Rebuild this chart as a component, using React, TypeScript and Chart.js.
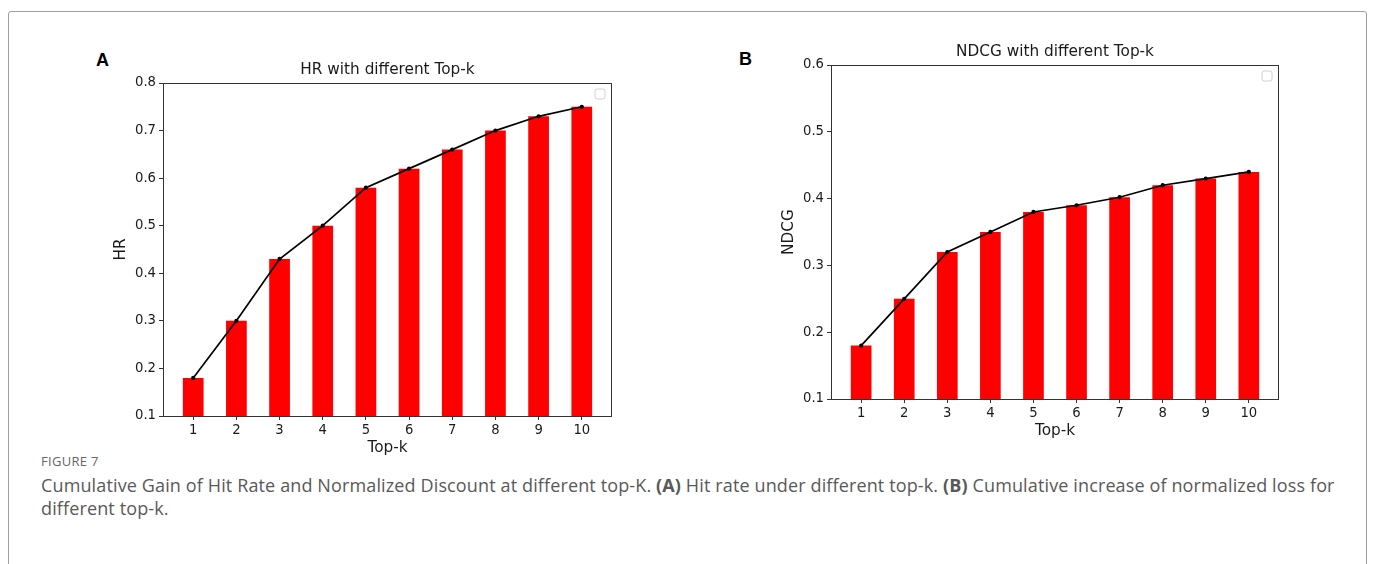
import React, { useEffect, useRef } from 'react';
import { Chart, registerables } from 'chart.js';

Chart.register(...registerables);

// ---- data ----
const topK = [1, 2, 3, 4, 5, 6, 7, 8, 9, 10];
const hrValues = [0.18, 0.3, 0.43, 0.5, 0.58, 0.62, 0.66, 0.7, 0.73, 0.75];
const ndcgValues = [0.18, 0.25, 0.32, 0.35, 0.38, 0.39, 0.402, 0.42, 0.43, 0.44];
const hrTicks = [0.1, 0.2, 0.3, 0.4, 0.5, 0.6, 0.7, 0.8];
const ndcgTicks = [0.1, 0.2, 0.3, 0.4, 0.5, 0.6];

const FONT = "'DejaVu Sans', sans-serif";
const AXIS = '#333';
const LABEL_SIZE = 15.3;
const TICK_SIZE = 13.2;

type Props = {
  values: number[];
  yTicks: number[];
  title: string;
  yLabel: string;
  box: [number, number, number, number]; // x, y, w, h of canvas in page coords
  plot: [number, number, number, number]; // L, T, R, B of plot area in page coords
};

function PanelChart({ values, yTicks, title, yLabel, box, plot }: Props) {
  const ref = useRef<HTMLCanvasElement | null>(null);
  const [x0, y0, w, h] = box;
  useEffect(() => {
    const [L, T, R, B] = plot;
    const yAxisW = L - x0;
    const xAxisH = y0 + h - B;
    const titleLH = LABEL_SIZE * 1.2;

    const framePlugin = {
      id: 'frame',
      afterDraw(chart: any) {
        const { ctx, chartArea: a } = chart;
        ctx.save();
        ctx.strokeStyle = AXIS;
        ctx.lineWidth = 1;
        ctx.strokeRect(Math.round(a.left) + 0.5, Math.round(a.top) + 0.5, Math.round(a.right - a.left) - 1, Math.round(a.bottom - a.top));
        // empty legend box
        const lx = a.right - 17;
        const ly = a.top + 6;
        ctx.strokeStyle = '#d0d0d0';
        ctx.beginPath();
        const r = 2;
        const s = 10;
        ctx.moveTo(lx + r, ly);
        ctx.arcTo(lx + s, ly, lx + s, ly + s, r);
        ctx.arcTo(lx + s, ly + s, lx, ly + s, r);
        ctx.arcTo(lx, ly + s, lx, ly, r);
        ctx.arcTo(lx, ly, lx + s, ly, r);
        ctx.closePath();
        ctx.stroke();
        // title
        ctx.fillStyle = '#1a1a1a';
        ctx.font = `${LABEL_SIZE}px ${FONT}`;
        ctx.textAlign = 'center';
        ctx.textBaseline = 'middle';
        ctx.fillText(title, (a.left + a.right) / 2, a.top - 13);
        ctx.restore();
      },
    };

    const chart = new Chart(ref.current as HTMLCanvasElement, {
      data: {
        datasets: [
          {
            type: 'line',
            data: topK.map((k, i) => ({ x: k, y: values[i] })),
            borderColor: '#000',
            backgroundColor: '#000',
            borderWidth: 1.7,
            pointRadius: 1.3,
            pointHoverRadius: 1.3,
            order: 0,
          },
          {
            type: 'bar',
            data: topK.map((k, i) => ({ x: k, y: values[i] })),
            backgroundColor: '#ff0000',
            borderWidth: 0,
            barPercentage: 0.48,
            categoryPercentage: 1,
            order: 1,
          },
        ],
      } as any,
      options: {
        animation: false,
        responsive: false,
        events: [],
        layout: { padding: { left: 0, top: T - y0, right: x0 + w - R, bottom: 0 } },
        plugins: { legend: { display: false }, tooltip: { enabled: false }, title: { display: false } },
        scales: {
          x: {
            type: 'linear',
            min: 0.3,
            max: 10.7,
            offset: false,
            afterBuildTicks: (s: any) => {
              s.ticks = topK.map((v) => ({ value: v }));
            },
            afterFit: (s: any) => {
              s.height = xAxisH;
            },
            ticks: {
              callback: (v: any) => String(v),
              font: { family: FONT, size: TICK_SIZE },
              color: '#1a1a1a',
              padding: 3,
              maxRotation: 0,
              autoSkip: false,
            },
            grid: { display: true, offset: false, drawOnChartArea: false, drawTicks: true, tickLength: 4, color: AXIS },
            border: { display: false },
            title: {
              display: true,
              text: 'Top-k',
              color: '#1a1a1a',
              font: { family: FONT, size: LABEL_SIZE, lineHeight: 1.2 },
              padding: { top: 0, bottom: xAxisH - 32 - titleLH / 2 },
            },
          },
          y: {
            type: 'linear',
            min: yTicks[0],
            max: yTicks[yTicks.length - 1],
            afterBuildTicks: (s: any) => {
              s.ticks = yTicks.map((v) => ({ value: v }));
            },
            afterFit: (s: any) => {
              s.width = yAxisW;
            },
            ticks: {
              callback: (v: any) => Number(v).toFixed(1),
              font: { family: FONT, size: TICK_SIZE },
              color: '#1a1a1a',
              padding: 3,
            },
            grid: { display: true, drawOnChartArea: false, drawTicks: true, tickLength: 4, color: AXIS },
            border: { display: false },
            title: {
              display: true,
              text: yLabel,
              color: '#1a1a1a',
              font: { family: FONT, size: LABEL_SIZE, lineHeight: 1.2 },
              padding: { top: yAxisW - 42 - titleLH / 2, bottom: 0 },
            },
          },
        },
      } as any,
      plugins: [framePlugin],
    });
    return () => chart.destroy();
  }, []);
  return (
    <canvas
      ref={ref}
      width={w}
      height={h}
      style={{ position: 'absolute', left: x0, top: y0, width: w, height: h }}
    />
  );
}

export default function App() {
  const line = { whiteSpace: 'nowrap' as const, display: 'block' };
  return (
    <div style={{ position: 'absolute', left: 0, top: 0, width: 1375, height: 564, overflow: 'hidden', background: '#fff' }}>
      <div
        style={{
          position: 'absolute',
          left: 8,
          top: 11,
          width: 1359,
          height: 640,
          border: '1px solid #9e9e9e',
          borderRadius: 3,
          boxSizing: 'border-box',
        }}
      />
      <div style={{ position: 'absolute', left: 96, top: 50, font: "bold 18px 'Liberation Sans', Arial, sans-serif", color: '#000' }}>A</div>
      <div style={{ position: 'absolute', left: 739, top: 49, font: "bold 18px 'Liberation Sans', Arial, sans-serif", color: '#000' }}>B</div>
      <PanelChart values={hrValues} yTicks={hrTicks} title="HR with different Top-k" yLabel="HR" box={[100, 45, 530, 415]} plot={[163, 83, 612, 416]} />
      <PanelChart values={ndcgValues} yTicks={ndcgTicks} title="NDCG with different Top-k" yLabel="NDCG" box={[766, 28, 530, 415]} plot={[831, 65, 1279, 399]} />
      <div style={{ position: 'absolute', left: 41, top: 452, font: "13px 'Open Sans', sans-serif", color: '#666', letterSpacing: 0.3 }}>FIGURE 7</div>
      <div style={{ position: 'absolute', left: 41, top: 474, font: "18px/23px 'Open Sans', sans-serif", color: '#595959', letterSpacing: 0.13 }}>
        <span style={line}>
          Cumulative Gain of Hit Rate and Normalized Discount at different top-K. <b>(A)</b> Hit rate under different top-k. <b>(B)</b> Cumulative increase of normalized loss for
        </span>
        <span style={line}>different top-k.</span>
      </div>
    </div>
  );
}
